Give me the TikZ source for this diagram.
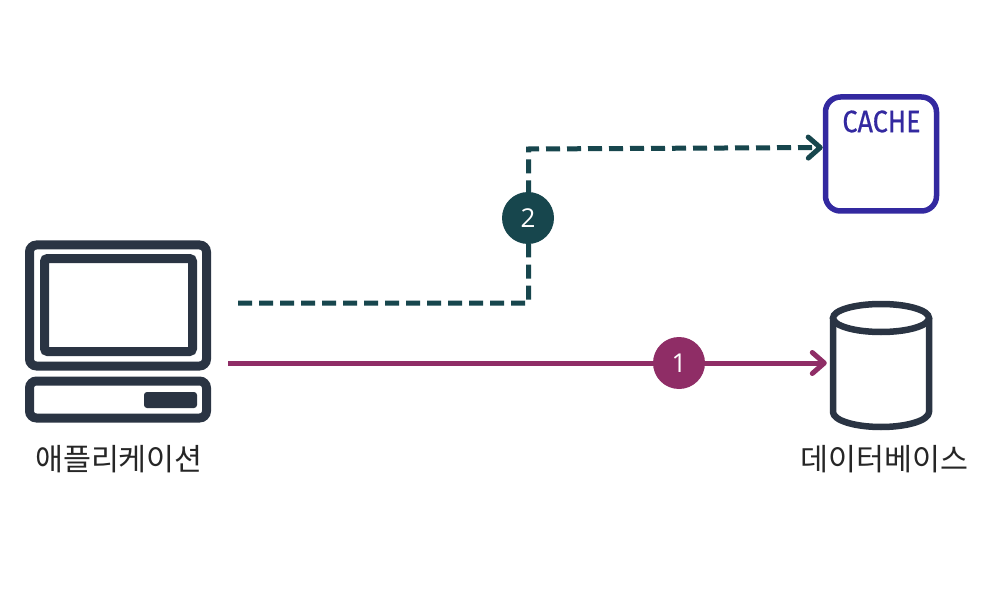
\documentclass[tikz,border=0pt]{standalone}
\usepackage{fontspec}
\setmainfont{Open Sans}
\newfontfamily\krfont{Noto Sans CJK KR}
\newfontfamily\cachefont[FakeBold=0.6]{Fira Sans}
\usetikzlibrary{arrows.meta,calc}
\definecolor{ink}{HTML}{2A3443}
\definecolor{plum}{HTML}{8F2D66}
\definecolor{teal}{HTML}{17464D}
\definecolor{indigo}{HTML}{3329A0}
\tikzset{
  x=1pt,y=-1pt,
  tip/.style={-{Straight Barb[length=12pt,width=21pt,line width=5pt,round]}},
  flowone/.style={draw=plum,line width=5pt,tip},
  flowtwo/.style={draw=teal,line width=5pt,tip,dash pattern=on 14pt off 7pt},
  badge/.style={circle,minimum size=52pt,inner sep=0pt,text=white,font=\fontsize{26}{26}\selectfont},
  inkbox/.style={draw=ink,line width=9pt,rounded corners=7pt,fill=white,inner sep=0pt},
  label/.style={font=\krfont\fontsize{30.4}{30.4}\selectfont,text=black!85,inner sep=0pt},
}
\begin{document}
\begin{tikzpicture}
\useasboundingbox[fill=white] (0,0) rectangle (1004,596);
% computer
\node[inkbox,minimum width=177pt,minimum height=121pt] (monitor) at (118,305.5) {};
\node[inkbox,minimum width=148pt,minimum height=93pt,rounded corners=3pt] (screen) at (118.5,305) {};
\node[inkbox,minimum width=177pt,minimum height=37pt] (base) at (118,399.5) {};
\node[fill=ink,rounded corners=3pt,minimum width=53pt,minimum height=16pt,inner sep=0pt] (slot) at (170.5,400) {};
\node[label] (applabel) at (119,459) {애플리케이션};
% cache
\node[draw=indigo,line width=5.5pt,rounded corners=15pt,minimum width=111pt,minimum height=114pt,inner sep=0pt] (cache) at (881,154) {};
\node[text=indigo,inner sep=0pt] (cachelabel) at (881.5,121.5) {\scalebox{0.87}[1]{\cachefont\fontsize{31}{31}\selectfont CACHE}};
% database
\coordinate (dbtop) at (881,318);
\draw[ink,line width=6.5pt,line join=round]
  (833,318) -- (833,412) arc[start angle=180,end angle=0,x radius=48,y radius=15] -- (929,318);
\draw[ink,line width=6.5pt] (dbtop) ellipse[x radius=48,y radius=14];
\node[inner sep=0pt,minimum width=108pt,minimum height=108pt] (db) at (881,374) {};
\node[label] (dblabel) at (884.5,459) {데이터베이스};
% connectors
\coordinate (startone) at (228,363);
\coordinate (starttwo) at (238,303);
\coordinate (bendone) at (528.5,303);
\coordinate (bendtwo) at (528.5,149);
\draw[flowone] (startone) -- (db.west |- startone);
\draw[flowtwo,line join=miter] (starttwo) -- (bendone) -- (bendtwo) -- (cache.west |- 0,147.5);
\node[badge,fill=plum] (one) at (679,363) {1};
\node[badge,fill=teal] (two) at (528,218) {2};
\end{tikzpicture}
\end{document}
